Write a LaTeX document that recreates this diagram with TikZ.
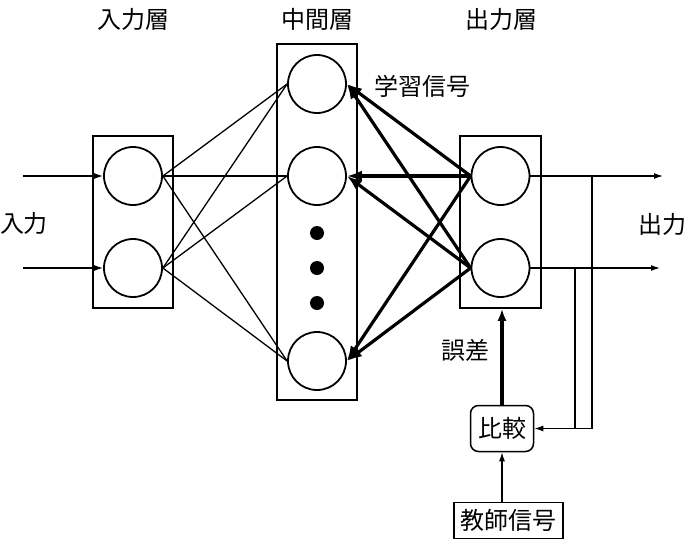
\documentclass[tikz,border=0pt]{standalone}
\usepackage{fontspec}
\setmainfont{Noto Sans CJK JP}
\usetikzlibrary{arrows.meta, positioning, calc}
\tikzset{
  layerbox/.style={rectangle, draw, line width=1.5pt, inner sep=0pt},
  unit/.style={circle, draw, line width=1.8pt, minimum size=58pt, inner sep=0pt},
  dotnode/.style={circle, fill, minimum size=14pt, inner sep=0pt},
  lbl/.style={inner sep=0pt, font=\fontsize{24}{28}\selectfont},
  cmpbox/.style={rectangle, draw, line width=1.5pt, rounded corners=8pt,
    minimum width=63pt, minimum height=46pt, inner sep=0pt, font=\fontsize{24}{28}\selectfont},
  teachbox/.style={rectangle, draw, line width=1.5pt,
    minimum width=109pt, minimum height=36pt, inner sep=0pt, font=\fontsize{24}{28}\selectfont},
  wire/.style={line width=1.3pt},
  thinarrow/.style={-{Latex[length=9pt,width=6pt]}, line width=1.3pt},
  sigarrow/.style={-{Latex[length=15pt,width=11pt]}, line width=3.2pt}
}

\begin{document}
\begin{tikzpicture}[x=1pt, y=-1pt]
  \useasboundingbox (0,0) rectangle (686,539);

  % layers
  \node [layerbox, minimum width=80pt, minimum height=172pt] (inbox) at (133,222) {};
  \node [layerbox, minimum width=80pt, minimum height=356pt] (hidbox) at (317,222) {};
  \node [layerbox, minimum width=81pt, minimum height=172pt] (outbox) at (500.5,222) {};

  \node [unit] (in1) at (133,176) {};
  \node [unit] (in2) at (133,268) {};
  \node [unit] (h1) at (317,84) {};
  \node [unit] (h2) at (317,176) {};
  \node [unit] (h3) at (317,361) {};
  \node [unit] (o1) at (500.5,176) {};
  \node [unit] (o2) at (500.5,268) {};

  \node [dotnode] (d1) at (317,233) {};
  \node [dotnode] (d2) at (317,268) {};
  \node [dotnode] (d3) at (317,303) {};

  % labels
  \node [lbl] (tin) at (133,19) {入力層};
  \node [lbl] (thid) at (317,19) {中間層};
  \node [lbl] (tout) at (501,19) {出力層};
  \node [lbl] (xin) at (24,223) {入力};
  \node [lbl] (xout) at (662,224) {出力};
  \node [lbl] (learn) at (422,86) {学習信号};
  \node [lbl] (err) at (465,350) {誤差};

  \node [cmpbox] (cmp) at (502,428.5) {比較};
  \node [teachbox] (teach) at (508.5,520.5) {教師信号};

  % inputs and outputs
  \coordinate (src1) at (23,176);
  \coordinate (src2) at (23,268);
  \coordinate (dst1) at (663,176);
  \coordinate (dst2) at (660,268);
  \coordinate (br1) at (592,176);
  \coordinate (br2) at (575,268);

  \draw [thinarrow] (src1) -- (in1.west);
  \draw [thinarrow] (src2) -- (in2.west);
  \draw [thinarrow] (o1.east) -- (dst1);
  \draw [thinarrow] (o2.east) -- (dst2);

  \foreach \i in {in1,in2}
    \foreach \h in {h1,h2,h3}
      \draw [wire] (\i.east) -- (\h.west);

  \foreach \o in {o1,o2}
    \foreach \h in {h1,h2,h3}
      \draw [sigarrow] (\o.west) -- (\h.east);

  % feedback
  \draw [thinarrow] (br1) |- (cmp.east);
  \draw [line width=1.3pt] (br2) -- (br2 |- cmp.east);
  \draw [sigarrow, -{Latex[length=12pt,width=9pt]}] (cmp.north) -- (cmp.north |- outbox.south);
  \draw [thinarrow] (teach.north -| cmp.south) -- (cmp.south);
\end{tikzpicture}
\end{document}
